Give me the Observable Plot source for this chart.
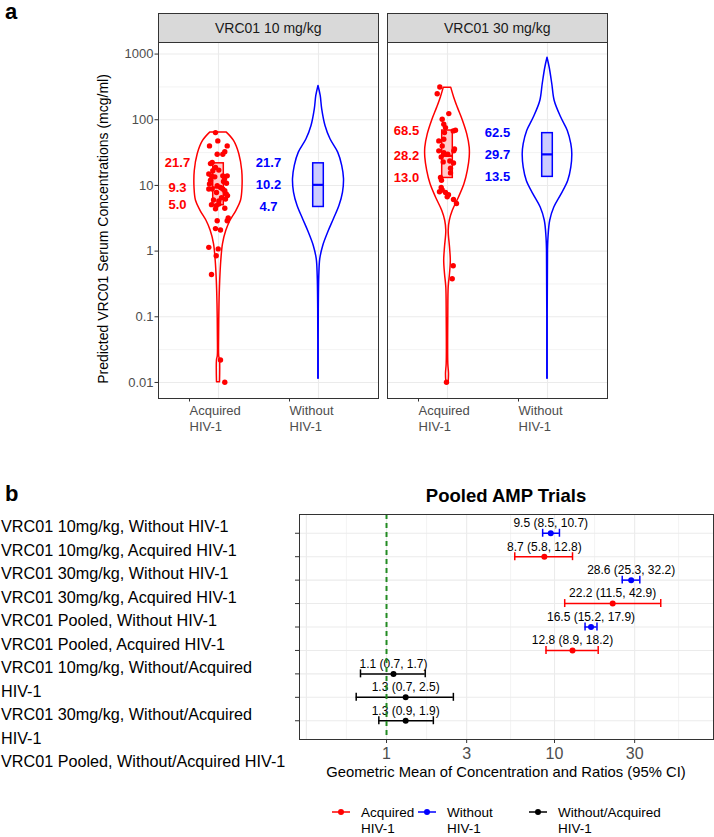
<!DOCTYPE html>
<html><head><meta charset="utf-8">
<script src="https://cdn.jsdelivr.net/npm/d3@7"></script>
<script src="https://cdn.jsdelivr.net/npm/@observablehq/plot@0.6"></script>
<style>
body{margin:0;background:#fff;}
#root{position:relative;width:714px;height:837px;font-family:"Liberation Sans",Arial,Helvetica,sans-serif;overflow:hidden;background:#fff;color:#000;}
.abs{position:absolute;}
</style></head><body><div id="root"></div>
<script>
// ---------- Panel a data ----------
const doses = ["VRC01 10 mg/kg", "VRC01 30 mg/kg"];
const groupTicks = ["Acquired\nHIV-1", "Without\nHIV-1"];
const groupColors = ["#FF0000", "#0000FF"];
const boxFills = ["#FFCCCC", "#CCCCFF"];
const yTicksA = [0.01, 0.1, 1, 10, 100, 1000];
const yMinorA = [0.0316, 0.316, 3.16, 31.6, 316];
const yTitleA = "Predicted VRC01 Serum Concentrations (mcg/ml)";

// violin profiles: [concentration, half-width]
const violinAcq10 = [[63.7,0.083],[47.6,0.155],[29.9,0.208],[16.7,0.237],[9.29,0.24],[5.83,0.225],[4.11,0.18],[2.90,0.12],[2.04,0.078],[1.28,0.045],[0.714,0.028],[0.355,0.017],[0.157,0.010],[0.0488,0.006],[0.0251,0.007],[0.0219,0.015],[0.0101,0.015]];
const violinWo10 = [[327,0],[230,0.022],[144,0.037],[80.5,0.07],[50.5,0.12],[31.6,0.197],[19.9,0.237],[12.5,0.255],[7.80,0.245],[4.90,0.21],[3.08,0.155],[1.92,0.097],[1.21,0.048],[0.759,0.018],[0.423,0.008],[0.132,0.003],[0.0114,0.002]];
const violinAcq30 = [[308,0.037],[217,0.067],[153,0.103],[95.9,0.155],[60.3,0.197],[37.7,0.222],[26.5,0.222],[16.7,0.203],[10.5,0.17],[6.55,0.115],[4.11,0.053],[2.90,0.023],[2.04,0.012],[1.14,0.025],[0.714,0.033],[0.449,0.025],[0.281,0.012],[0.111,0.008],[0.0192,0.008],[0.0136,0.015],[0.0101,0.012]];
const violinWo30 = [[879,0],[619,0.022],[347,0.048],[193,0.072],[108,0.137],[67.6,0.203],[42.5,0.238],[29.9,0.248],[18.7,0.238],[11.7,0.207],[7.38,0.142],[4.61,0.068],[2.90,0.027],[1.61,0.01],[1.01,0.005],[0.0114,0.002]];

// jittered observations (Acquired HIV-1): [x jitter, concentration]
const pointsAcq10 = [[-0.03,63.7],[-0.09,40],[-0.007,47.6],[0.087,40],[0.063,32.7],[0.043,29.9],[-0.013,29.9],[-0.08,21.5],[-0.063,22.3],[-0.03,18.7],[0.003,17.1],[-0.057,16.7],[-0.097,14.9],[-0.07,14.0],[-0.037,13.5],[0.043,14.0],[0.087,14.0],[-0.09,10.5],[-0.097,8.8],[-0.063,8.8],[-0.013,9.9],[0.02,9.3],[0.043,8.8],[0.063,8.3],[0.077,7.4],[0.07,6.2],[0.03,6.5],[0.003,5.8],[-0.07,5.1],[-0.023,4.9],[0.003,5.2],[-0.03,4.4],[0.063,4.5],[0.097,3.2],[0.087,2.9],[-0.013,2.9],[-0.03,2.2],[0.02,2.1],[-0.097,1.14],[-0.003,1.08],[-0.023,0.85],[-0.07,0.44],[0.02,0.022],[0.063,0.0101],[-0.08,12],[0.05,11.5],[0.08,10.8],[-0.02,7.8],[0.09,7.0],[-0.05,6.0],[0.06,12.5]];
const pointsAcq30 = [[-0.077,315],[-0.103,249],[0.013,124],[-0.053,102],[-0.037,85.5],[-0.02,75.9],[0.08,69.2],[0.057,67.6],[-0.03,63.7],[-0.037,50.6],[-0.087,47.6],[-0.053,40],[0.063,33.6],[-0.087,33.6],[-0.037,31.6],[0.003,29.9],[-0.063,27.2],[0.023,23.6],[-0.043,22.8],[0.03,18.3],[-0.07,13.2],[-0.063,9.3],[-0.053,8.5],[-0.02,7.8],[-0.003,6.7],[0.09,5.3],[0.057,0.60],[0.047,0.38],[-0.01,0.0101],[0.07,36],[0.06,22],[-0.06,12.0],[0.03,15.5],[-0.08,8.0],[0.01,7.2],[0.06,6.1]];

// box summaries
const summaryDose = [0, 0, 1, 1];
const summaryGroup = [0, 1, 0, 1];
const summaryQ1 = [5.0, 4.7, 13.0, 13.5];
const summaryMed = [9.3, 10.2, 28.2, 29.7];
const summaryQ3 = [21.7, 21.7, 68.5, 62.5];

// ---------- Panel b data ----------
const rowLabels = ["VRC01 10mg/kg, Without HIV-1","VRC01 10mg/kg, Acquired HIV-1","VRC01 30mg/kg, Without HIV-1","VRC01 30mg/kg, Acquired HIV-1","VRC01 Pooled, Without HIV-1","VRC01 Pooled, Acquired HIV-1","VRC01 10mg/kg, Without/Acquired\nHIV-1","VRC01 30mg/kg, Without/Acquired\nHIV-1","VRC01 Pooled, Without/Acquired HIV-1"];
const rowType = ["Without","Acquired","Without","Acquired","Without","Acquired","Ratio","Ratio","Ratio"];
const rowEst = [9.5, 8.7, 28.6, 22.2, 16.5, 12.8, 1.1, 1.3, 1.3];
const rowLo = [8.5, 5.8, 25.3, 11.5, 15.2, 8.9, 0.7, 0.66, 0.9];
const rowHi = [10.7, 12.8, 32.2, 42.9, 17.9, 18.2, 1.7, 2.5, 1.9];
const xTicksB = [1, 3, 10, 30];
const xMajorB = [1/3, 1, 3, 10, 30];
const xMinorB = [0.577, 1.732, 5.477, 17.32, 54.77];
const titleB = "Pooled AMP Trials";
const xTitleB = "Geometric Mean of Concentration and Ratios (95% CI)";
const legendKeys = ["Acquired", "Without", "Ratio"];
const legendLabels = ["Acquired\nHIV-1", "Without\nHIV-1", "Without/Acquired\nHIV-1"];
const typeColors = {Acquired: "#FF0000", Without: "#0000FF", Ratio: "#000000"};

// ---------- build tables ----------
const violinDefs = [[0,0,violinAcq10],[0,1,violinWo10],[1,0,violinAcq30],[1,1,violinWo30]];
const violinRows = violinDefs.flatMap(([d,g,prof],k) => prof.map(([val,hw]) => ({dose: doses[d], grp: g, key: k, pos: g+1, val, hw, col: groupColors[g]})));
const pointRows = [...pointsAcq10.map(([o,v]) => ({dose: doses[0], off:o, val:v})), ...pointsAcq30.map(([o,v]) => ({dose: doses[1], off:o, val:v}))];
const boxRows = summaryDose.map((d,i) => ({dose: doses[d], grp: summaryGroup[i], pos: summaryGroup[i]+1, q1: summaryQ1[i], med: summaryMed[i], q3: summaryQ3[i], col: groupColors[summaryGroup[i]], fillc: boxFills[summaryGroup[i]]}));
const labelRows = boxRows.flatMap(b => [b.q3, b.med, b.q1].map(v => ({dose: b.dose, grp: b.grp, pos: b.pos, val: v, col: b.col})));

const font = '"Liberation Sans", Arial, Helvetica, sans-serif';
const root = document.getElementById("root");

const chartA = Plot.plot({
  width: 714, height: 440,
  marginLeft: 158, marginRight: 107, marginTop: 42, marginBottom: 42,
  style: {fontFamily: font, fontSize: "13px", background: "transparent", overflow: "visible"},
  fx: {domain: doses, paddingInner: 0.04, paddingOuter: 0, axis: null},
  x: {domain: [0.4, 2.6]},
  y: {type: "log", domain: [0.0057, 1500]},
  color: {type: "identity"},
  marks: [
    Plot.ruleY(yMinorA, {stroke: "#EBEBEB", strokeWidth: 0.6}),
    Plot.ruleY(yTicksA, {stroke: "#EBEBEB", strokeWidth: 1.1}),
    Plot.ruleX([1, 2], {stroke: "#EBEBEB", strokeWidth: 1.1}),
    Plot.areaX(violinRows, {fx: "dose", y: "val", x1: d => d.pos - d.hw, x2: d => d.pos + d.hw, z: "key", fill: "none", stroke: "col", strokeWidth: 1.5, curve: "catmull-rom"}),
    Plot.rect(boxRows, {fx: "dose", x1: d => d.pos - 0.053, x2: d => d.pos + 0.053, y1: "q1", y2: "q3", fill: "fillc", stroke: "col", strokeWidth: 1.5}),
    Plot.ruleY(boxRows, {fx: "dose", y: "med", x1: d => d.pos - 0.053, x2: d => d.pos + 0.053, stroke: "col", strokeWidth: 2.2}),
    Plot.dot(pointRows, {fx: "dose", x: d => 1 + d.off, y: "val", r: 2.7, fill: "#FF0000", stroke: "none"}),
    Plot.text(labelRows, {fx: "dose", x: d => d.pos - (d.grp === 0 ? 0.41 : 0.5), y: "val", text: d => d.val.toFixed(1), fill: "col", fontSize: 13, fontWeight: "bold"}),
    Plot.frame({stroke: "#333", strokeWidth: 1}),
    Plot.axisY({ticks: yTicksA, tickFormat: d => String(d), tickSize: 3.5, tickPadding: 1.5, fontSize: 13, fill: "#4D4D4D", stroke: "#333", label: null}),
    Plot.axisX({ticks: [1, 2], tickFormat: i => groupTicks[i - 1], tickSize: 3.5, tickPadding: 1.5, fontSize: 13, fill: "#4D4D4D", stroke: "#333", label: null, lineHeight: 1.23, textAnchor: "start", dx: -29})
  ]
});
chartA.style.position = "absolute"; chartA.style.left = "0px"; chartA.style.top = "0px";
root.appendChild(chartA);

function addDiv(text, css) {
  const el = document.createElement("div");
  el.textContent = text;
  el.style.cssText = "position:absolute;" + css;
  root.appendChild(el);
  return el;
}

// strips
let fxs = null;
try { fxs = chartA.scale("fx"); } catch (e) {}
doses.forEach((d, i) => {
  let left = 158 + i * 229.08, w = 219.9;
  if (fxs && fxs.apply && fxs.bandwidth) { left = fxs.apply(d) + 158; w = fxs.bandwidth; }
  if (fxs && fxs.apply && fxs.apply(doses[0]) > 100) { left = fxs.apply(d); }
  addDiv(d, `left:${left}px;top:13px;width:${w + 0.5}px;height:30px;box-sizing:border-box;background:#D9D9D9;border:1px solid #333;display:flex;align-items:center;justify-content:center;font-size:14px;line-height:14px;color:#1A1A1A;`);
});

// panel labels and y title
addDiv("a", "left:5px;top:1.4px;font-size:22px;line-height:22px;font-weight:bold;");
addDiv("b", "left:5px;top:483.4px;font-size:22px;line-height:22px;font-weight:bold;");
addDiv(yTitleA, "left:102.6px;top:229px;transform:translate(-50%,-50%) rotate(-90deg);white-space:nowrap;font-size:14px;line-height:14px;color:#000;");

// ---------- Panel b ----------
const rowNums = rowEst.map((_, i) => i + 1);
const bRows = rowEst.map((e, i) => ({row: i + 1, est: e, lo: rowLo[i], hi: rowHi[i], col: typeColors[rowType[i]],
  label: `${e.toFixed(1)} (${rowLo[i].toFixed(1)}, ${rowHi[i].toFixed(1)})`}));

const chartB = Plot.plot({
  width: 424, height: 279,
  marginLeft: 9, marginRight: 1, marginTop: 9, marginBottom: 45,
  style: {fontFamily: font, fontSize: "12px", background: "transparent", overflow: "visible"},
  x: {type: "log", domain: [0.3034, 88.4]},
  y: {domain: [0.2, 9.8], reverse: true},
  color: {type: "identity"},
  marks: [
    Plot.ruleX(xMinorB, {stroke: "#EBEBEB", strokeWidth: 0.6}),
    Plot.ruleX(xMajorB, {stroke: "#EBEBEB", strokeWidth: 1.1}),
    Plot.ruleY(rowNums, {stroke: "#EBEBEB", strokeWidth: 1.1}),
    Plot.ruleY(bRows, {y: "row", x1: "lo", x2: "hi", stroke: "col", strokeWidth: 1.5}),
    Plot.ruleX(bRows, {x: "lo", y1: d => d.row - 0.17, y2: d => d.row + 0.17, stroke: "col", strokeWidth: 1.5}),
    Plot.ruleX(bRows, {x: "hi", y1: d => d.row - 0.17, y2: d => d.row + 0.17, stroke: "col", strokeWidth: 1.5}),
    Plot.dot(bRows, {x: "est", y: "row", r: 3, fill: "col", stroke: "none"}),
    Plot.text(bRows, {x: "est", y: "row", text: "label", dy: -10, fontSize: 12, fill: "#000"}),
    Plot.ruleX([1], {stroke: "#228B22", strokeWidth: 2, strokeDasharray: "5,4"}),
    Plot.frame({stroke: "#333", strokeWidth: 1}),
    Plot.axisX({ticks: xTicksB, tickFormat: d => String(d), tickSize: 4, tickPadding: 4, fontSize: 16, fill: "#4D4D4D", stroke: "#333", label: null}),
    Plot.axisY({ticks: rowNums, tickFormat: () => "", tickSize: 4, stroke: "#333", label: null})
  ]
});
chartB.style.position = "absolute"; chartB.style.left = "290px"; chartB.style.top = "505px";
root.appendChild(chartB);

addDiv(titleB, "left:299px;top:487.3px;width:414px;text-align:center;font-size:18.5px;line-height:18.5px;font-weight:bold;");
addDiv(xTitleB, "left:299px;top:764.5px;width:414px;text-align:center;font-size:14.8px;line-height:14.8px;white-space:nowrap;");
addDiv(rowLabels.join("\n"), "left:1px;top:515px;font-size:16.2px;line-height:23.5px;white-space:pre;");

// legend
const legendKeyX = [332, 418, 529];
const legendTextX = [361, 447, 558];
const ns = "http://www.w3.org/2000/svg";
const lg = document.createElementNS(ns, "svg");
lg.setAttribute("width", 714); lg.setAttribute("height", 42);
lg.style.cssText = "position:absolute;left:0;top:795px;font-family:" + font + ";";
legendKeys.forEach((k, i) => {
  const c = typeColors[k];
  const ln = document.createElementNS(ns, "line");
  ln.setAttribute("x1", legendKeyX[i]); ln.setAttribute("x2", legendKeyX[i] + 18);
  ln.setAttribute("y1", 17); ln.setAttribute("y2", 17);
  ln.setAttribute("stroke", c); ln.setAttribute("stroke-width", 1.5);
  lg.appendChild(ln);
  const ci = document.createElementNS(ns, "circle");
  ci.setAttribute("cx", legendKeyX[i] + 9); ci.setAttribute("cy", 17); ci.setAttribute("r", 3); ci.setAttribute("fill", c);
  lg.appendChild(ci);
  const tx = document.createElementNS(ns, "text");
  tx.setAttribute("font-size", "13.5px");
  legendLabels[i].split("\n").forEach((line, j) => {
    const ts = document.createElementNS(ns, "tspan");
    ts.setAttribute("x", legendTextX[i]); ts.setAttribute("y", 22 + 15.5 * j);
    ts.textContent = line;
    tx.appendChild(ts);
  });
  lg.appendChild(tx);
});
root.appendChild(lg);
</script></body></html>
